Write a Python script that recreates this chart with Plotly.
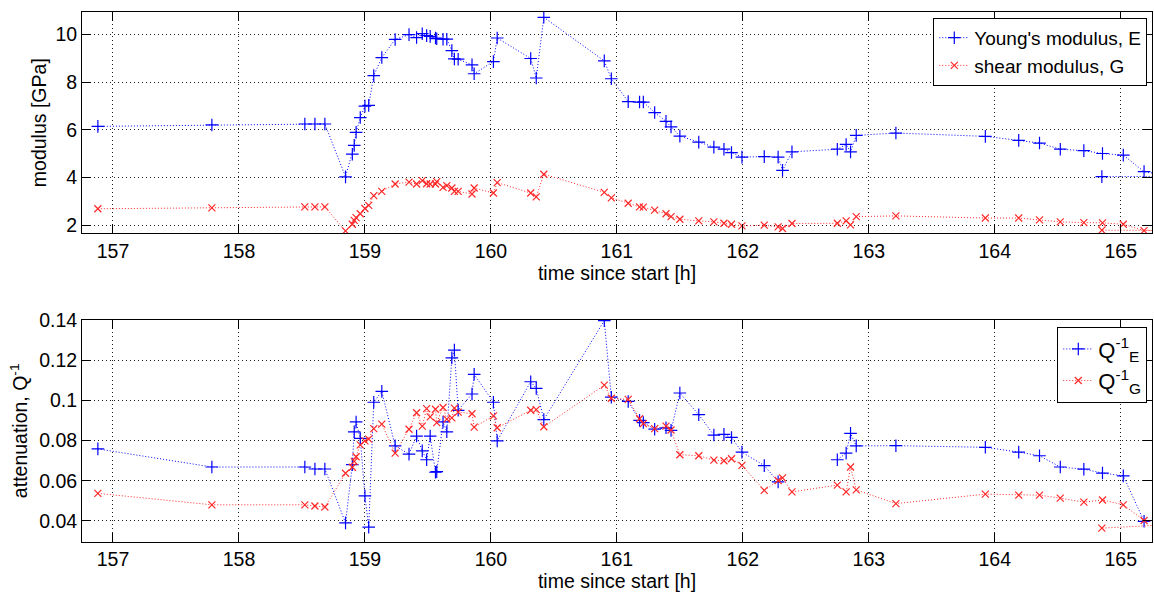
import plotly.graph_objects as go

# ---- data ----
time_h = [156.88, 157.785, 158.523, 158.603, 158.682, 158.846, 158.90, 158.915, 158.93, 158.963,
          159.00, 159.03, 159.07, 159.134, 159.24, 159.35, 159.41, 159.455, 159.49, 159.518,
          159.56, 159.57, 159.62, 159.65, 159.69, 159.71, 159.74, 159.85, 159.867, 160.02,
          160.05, 160.316, 160.36, 160.42, 160.90, 160.956, 161.09, 161.18, 161.21, 161.30,
          161.39, 161.43, 161.50, 161.65, 161.77, 161.85, 161.91, 161.993, 162.17, 162.28,
          162.315, 162.39, 162.75, 162.82, 162.855, 162.90, 163.215, 163.925, 164.19, 164.355,
          164.52, 164.707, 164.855, 165.02, 165.185, 165.40, 164.85]

youngs_E = [6.15, 6.21, 6.25, 6.25, 6.25, 4.03, 4.98, 5.35, 5.90, 6.52,
            7.00, 7.03, 8.28, 9.04, 9.80, 10.00, 9.88, 10.04, 9.96, 9.93,
            9.86, 9.83, 9.81, 9.81, 9.33, 8.98, 8.97, 8.73, 8.36, 8.87,
            9.86, 9.00, 8.18, 10.73, 8.90, 8.15, 7.19, 7.17, 7.17, 6.73,
            6.36, 6.13, 5.74, 5.49, 5.28, 5.19, 5.05, 4.86, 4.88, 4.86,
            4.30, 5.08, 5.19, 5.39, 5.08, 5.77, 5.87, 5.73, 5.56, 5.45,
            5.19, 5.13, 5.01, 4.94, 4.25, 4.05, 4.04]

shear_G = [2.69, 2.73, 2.77, 2.77, 2.77, 1.76, 2.04, 2.20, 2.32, 2.48,
           2.70, 2.83, 3.24, 3.42, 3.73, 3.81, 3.73, 3.87, 3.74, 3.73,
           3.73, 3.83, 3.59, 3.66, 3.56, 3.42, 3.42, 3.31, 3.56, 3.35,
           3.79, 3.35, 3.19, 4.14, 3.38, 3.15, 2.92, 2.77, 2.76, 2.63,
           2.48, 2.36, 2.25, 2.18, 2.14, 2.08, 2.04, 1.97, 2.00, 1.93,
           1.86, 2.07, 2.08, 2.18, 2.01, 2.36, 2.39, 2.30, 2.30, 2.22,
           2.14, 2.11, 2.10, 2.04, 1.77, 1.78, 1.79]

atten_QE = [0.0758, 0.0668, 0.0668, 0.0658, 0.0658, 0.0390, 0.0680, 0.0843, 0.0892, 0.0810,
            0.0524, 0.0369, 0.0990, 0.1044, 0.0773, 0.0732, 0.0822, 0.0748, 0.0704, 0.0822,
            0.0642, 0.0645, 0.0892, 0.0843, 0.1211, 0.1249, 0.0950, 0.1031, 0.1129, 0.0990,
            0.0798, 0.1092, 0.1059, 0.0904, 0.1396, 0.1015, 0.0994, 0.0900, 0.0889, 0.0856,
            0.0863, 0.0850, 0.1036, 0.0928, 0.0827, 0.0830, 0.0815, 0.0742, 0.0675, 0.0594,
            None, None, 0.0704, 0.0737, 0.0835, 0.0773, 0.0774, 0.0766, 0.0742, 0.0724,
            0.0668, 0.0657, 0.0638, 0.0624, 0.0398, None, None]

atten_QG = [0.0537, 0.0480, 0.0480, 0.0474, 0.0469, 0.0637, 0.0667, 0.0696, 0.0719, 0.0778,
            0.0798, 0.0807, 0.0859, 0.0881, 0.0737, 0.0856, 0.0938, 0.0871, 0.0958, 0.0917,
            0.0955, 0.0889, 0.0964, 0.0906, 0.0912, 0.0961, 0.0941, 0.0933, 0.0866, 0.0922,
            0.0863, 0.0950, 0.0953, 0.0868, 0.1075, 0.1010, 0.1004, 0.0908, 0.0884, 0.0859,
            0.0871, 0.0852, 0.0729, 0.0724, 0.0702, 0.0699, 0.0709, 0.0676, 0.0552, 0.0601,
            0.0614, 0.0544, 0.0578, 0.0544, 0.0668, 0.0554, 0.0486, 0.0533, 0.0528, 0.0528,
            0.0513, 0.0493, 0.0504, 0.0480, 0.0402, 0.0382, 0.0364]

x_ticks = [157, 158, 159, 160, 161, 162, 163, 164, 165]
top_y_ticks = [2, 4, 6, 8, 10]
bot_y_ticks = [0.04, 0.06, 0.08, 0.1, 0.12, 0.14]
bot_y_ticklabels = ["0.04", "0.06", "0.08", "0.1", "0.12", "0.14"]

BLUE = "rgb(0,0,255)"
RED = "rgb(255,40,40)"
FONT = "Liberation Sans, Arial, Helvetica, sans-serif"
LINE_DASH = "1px,2px"
GRID_DASH = "1px,3px"
TICK_SIZE = 19.5

fig = go.Figure()

fig.add_trace(go.Scatter(
    x=time_h, y=youngs_E, mode="lines+markers", name="Young's modulus, E",
    line=dict(color=BLUE, width=1, dash=LINE_DASH),
    marker=dict(symbol="cross-thin", size=9, line=dict(color=BLUE, width=1.2)),
    xaxis="x", yaxis="y", legend="legend", connectgaps=False))
fig.add_trace(go.Scatter(
    x=time_h, y=shear_G, mode="lines+markers", name="shear modulus, G",
    line=dict(color=RED, width=1, dash=LINE_DASH),
    marker=dict(symbol="x-thin", size=7, line=dict(color=RED, width=1.2)),
    xaxis="x", yaxis="y", legend="legend", connectgaps=False))

fig.add_trace(go.Scatter(
    x=time_h, y=atten_QE, mode="lines+markers", name="Q<sup>-1</sup><sub>E</sub>",
    line=dict(color=BLUE, width=1, dash=LINE_DASH),
    marker=dict(symbol="cross-thin", size=9, line=dict(color=BLUE, width=1.2)),
    xaxis="x2", yaxis="y2", legend="legend2", connectgaps=False))
fig.add_trace(go.Scatter(
    x=time_h, y=atten_QG, mode="lines+markers", name="Q<sup>-1</sup><sub>G</sub>",
    line=dict(color=RED, width=1, dash=LINE_DASH),
    marker=dict(symbol="x-thin", size=7, line=dict(color=RED, width=1.2)),
    xaxis="x2", yaxis="y2", legend="legend2", connectgaps=False))

axis_common = dict(
    showline=True, linecolor="black", linewidth=1, mirror="ticks",
    ticks="inside", ticklen=9, tickwidth=1, tickcolor="black",
    showgrid=True, gridcolor="#222", gridwidth=1, griddash=GRID_DASH,
    zeroline=False, tickfont=dict(size=TICK_SIZE, color="black", family=FONT),
)

XR = [156.754, 165.248]

fig.update_layout(
    width=1154, height=592,
    margin=dict(l=82, r=1, t=5, b=50),
    paper_bgcolor="white", plot_bgcolor="white",
    font=dict(family=FONT, size=TICK_SIZE, color="black"),
    xaxis=dict(domain=[0, 1], range=XR, anchor="y", tickvals=x_ticks,
               title=dict(text="time since start [h]", standoff=3, font=dict(size=TICK_SIZE)),
               **axis_common),
    yaxis=dict(domain=[0.5823, 1], range=[1.656, 10.952], anchor="x", tickvals=top_y_ticks,
               title=dict(text="modulus [GPa]", standoff=3, font=dict(size=TICK_SIZE)),
               **axis_common),
    xaxis2=dict(domain=[0, 1], range=XR, anchor="y2", tickvals=x_ticks,
                title=dict(text="time since start [h]", standoff=3, font=dict(size=TICK_SIZE)),
                **axis_common),
    yaxis2=dict(domain=[0, 0.4196], range=[0.0295, 0.1401], anchor="x2",
                tickvals=bot_y_ticks, ticktext=bot_y_ticklabels,
                title=dict(text="attenuation, Q<sup>-1</sup>", standoff=6, font=dict(size=TICK_SIZE)),
                **axis_common),
    legend=dict(x=0.9956, y=0.989, xanchor="right", yanchor="top",
                bgcolor="white", bordercolor="black", borderwidth=1,
                font=dict(size=19, family=FONT), tracegroupgap=0),
    legend2=dict(x=0.9956, y=0.4054, xanchor="right", yanchor="top",
                 bgcolor="white", bordercolor="black", borderwidth=1,
                 font=dict(size=22, family=FONT), tracegroupgap=0),
    showlegend=True,
)

fig.write_html("out.html")
